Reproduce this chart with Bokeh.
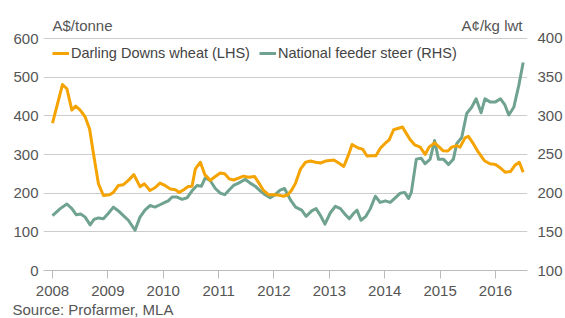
from bokeh.plotting import figure
from bokeh.models import (Range1d, LinearAxis, FixedTicker, Label, Legend, LegendItem, Title)
from bokeh.embed import file_html
from bokeh.resources import INLINE

# ---- data ----
wheat_t = [2008.00, 2008.18, 2008.26, 2008.35, 2008.42, 2008.50, 2008.59, 2008.67, 2008.74, 2008.83,
           2008.92, 2009.03, 2009.10, 2009.19, 2009.28, 2009.37, 2009.47, 2009.58, 2009.66, 2009.76,
           2009.85, 2009.94, 2010.03, 2010.13, 2010.22, 2010.29, 2010.37, 2010.45, 2010.52, 2010.58,
           2010.67, 2010.75, 2010.85, 2010.94, 2011.03, 2011.11, 2011.19, 2011.27, 2011.36, 2011.45,
           2011.54, 2011.65, 2011.72, 2011.81, 2011.90, 2011.99, 2012.08, 2012.17, 2012.25, 2012.32,
           2012.39, 2012.48, 2012.57, 2012.66, 2012.75, 2012.84, 2012.93, 2013.08, 2013.17, 2013.26,
           2013.34, 2013.41, 2013.52, 2013.60, 2013.68, 2013.76, 2013.84, 2013.92, 2014.00, 2014.08,
           2014.16, 2014.25, 2014.32, 2014.40, 2014.46, 2014.54, 2014.64, 2014.73, 2014.80, 2014.90,
           2014.97, 2015.05, 2015.14, 2015.21, 2015.30, 2015.36, 2015.45, 2015.51, 2015.60, 2015.69,
           2015.80, 2015.90, 2016.00, 2016.09, 2016.18, 2016.27, 2016.35, 2016.43, 2016.50]
wheat_v = [381, 481, 470, 415, 425, 415, 397, 366, 302, 224,
           194, 196, 202, 220, 222, 233, 248, 217, 224, 207,
           214, 226, 220, 211, 209, 202, 209, 217, 218, 263,
           280, 248, 233, 243, 252, 250, 237, 234, 239, 244,
           241, 243, 228, 207, 196, 196, 195, 192, 196, 208,
           226, 263, 280, 283, 280, 278, 283, 286, 278, 269,
           297, 326, 317, 314, 296, 297, 297, 316, 328, 338,
           364, 368, 371, 352, 338, 325, 319, 300, 319, 330,
           321, 310, 309, 319, 323, 319, 343, 347, 328, 306,
           284, 276, 274, 265, 254, 256, 272, 280, 254]

steer_t = [2008.00, 2008.14, 2008.26, 2008.35, 2008.43, 2008.51, 2008.59, 2008.68, 2008.75, 2008.83,
           2008.92, 2009.01, 2009.10, 2009.19, 2009.28, 2009.37, 2009.49, 2009.58, 2009.67, 2009.76,
           2009.85, 2009.94, 2010.03, 2010.09, 2010.16, 2010.25, 2010.34, 2010.43, 2010.52, 2010.61,
           2010.69, 2010.76, 2010.85, 2010.94, 2011.03, 2011.11, 2011.19, 2011.27, 2011.36, 2011.48,
           2011.57, 2011.66, 2011.75, 2011.84, 2011.93, 2012.02, 2012.11, 2012.19, 2012.30, 2012.39,
           2012.50, 2012.58, 2012.68, 2012.76, 2012.84, 2012.92, 2013.02, 2013.11, 2013.20, 2013.29,
           2013.36, 2013.44, 2013.50, 2013.57, 2013.66, 2013.74, 2013.83, 2013.92, 2014.01, 2014.10,
           2014.19, 2014.28, 2014.36, 2014.43, 2014.48, 2014.57, 2014.66, 2014.73, 2014.82, 2014.90,
           2014.97, 2015.06, 2015.15, 2015.24, 2015.30, 2015.39, 2015.48, 2015.57, 2015.65, 2015.74,
           2015.81, 2015.90, 2016.00, 2016.09, 2016.17, 2016.24, 2016.33, 2016.42, 2016.50]
steer_v = [171, 180, 186, 180, 172, 173, 169, 159, 166, 168,
           167, 174, 182, 177, 171, 165, 152, 169, 178, 184,
           182, 185, 188, 190, 195, 195, 192, 194, 203, 210,
           209, 220, 216, 206, 200, 198, 204, 210, 213, 218,
           213, 209, 203, 198, 194, 198, 204, 206, 191, 182,
           178, 170, 177, 180, 171, 160, 175, 183, 180, 172,
           167, 174, 178, 165, 170, 180, 196, 188, 190, 188,
           194, 200, 201, 193, 201, 244, 245, 238, 244, 268,
           244, 244, 237, 244, 264, 272, 303, 311, 322, 304,
           322, 318, 318, 322, 314, 301, 311, 339, 369]

year_ticks = [2008, 2009, 2010, 2011, 2012, 2013, 2014, 2015, 2016]
left_ticks = [0, 100, 200, 300, 400, 500, 600]
right_ticks = [100, 150, 200, 250, 300, 350, 400]

series_names = ["Darling Downs wheat (LHS)", "National feeder steer (RHS)"]
left_unit = "A$/tonne"
right_unit = "A\u00a2/kg lwt"
source_text = "Source: Profarmer, MLA"

# ---- style ----
FONT = "Liberation Sans"
ORANGE = "#F5A300"
GREEN = "#6FA28F"
TXT = "#555555"

p = figure(width=565, height=318, output_backend="svg", toolbar_location=None,
           x_range=Range1d(2007.8375, 2016.578), y_range=Range1d(0, 659.5),
           min_border_left=43, min_border_right=38, min_border_top=15, min_border_bottom=48,
           y_axis_location=None, outline_line_color=None, background_fill_color="white",
           border_fill_color="white")
p.extra_y_ranges = {"right": Range1d(100, 429.7)}

# grid
p.xgrid.visible = False
p.ygrid.ticker = FixedTicker(ticks=left_ticks)
p.ygrid.grid_line_color = "#cccccc"
p.ygrid.grid_line_width = 1

# bottom axis
xa = p.xaxis[0]
xa.ticker = FixedTicker(ticks=year_ticks)
xa.axis_line_color = "#bbbbbb"
xa.major_tick_line_color = "#bbbbbb"
xa.major_tick_out = 8
xa.major_tick_in = 0
xa.minor_tick_line_color = None
xa.minor_tick_out = 0
xa.major_label_text_font = FONT
xa.major_label_text_font_size = "15px"
xa.major_label_text_color = TXT
xa.major_label_standoff = 7

def style_y(ax, standoff):
    ax.axis_line_color = None
    ax.major_tick_line_color = None
    ax.minor_tick_line_color = None
    ax.major_tick_out = 0
    ax.minor_tick_out = 0
    ax.major_label_text_font = FONT
    ax.major_label_text_font_size = "15px"
    ax.major_label_text_color = TXT
    ax.major_label_standoff = standoff

ly = LinearAxis(ticker=FixedTicker(ticks=left_ticks))
style_y(ly, 5)
p.add_layout(ly, "left")
ry = LinearAxis(y_range_name="right", ticker=FixedTicker(ticks=right_ticks))
style_y(ry, 10)
p.add_layout(ry, "right")

# lines
r_steer = p.line(steer_t, steer_v, y_range_name="right", line_color=GREEN, line_width=3,
                 line_join="round")
r_wheat = p.line(wheat_t, wheat_v, line_color=ORANGE, line_width=3, line_join="round")

legend = Legend(items=[LegendItem(label=series_names[0], renderers=[r_wheat]),
                       LegendItem(label=series_names[1], renderers=[r_steer])],
                orientation="horizontal", location=(9, 209), padding=0, margin=0,
                spacing=9, glyph_width=17, glyph_height=16, label_height=16,
                label_standoff=2, border_line_color=None, background_fill_alpha=0,
                label_text_font=FONT, label_text_font_size="14.5px", label_text_color="#444444")
p.add_layout(legend, "center")

# unit labels (inside the extended frame)
p.add_layout(Label(x=2008.0, y=633.6, text=left_unit, text_font=FONT, text_font_size="15px",
                   text_color=TXT, text_baseline="middle", text_align="left"))
p.add_layout(Label(x=2016.487, y=633.6, text=right_unit, text_font=FONT, text_font_size="15px",
                   text_color=TXT, text_baseline="middle", text_align="right"))

# source
p.add_layout(Title(text=source_text, align="left", offset=-31, standoff=0,
                   text_font=FONT, text_font_size="15px", text_font_style="normal",
                   text_color=TXT), "below")

open("out.html", "w").write(file_html(p, INLINE))
